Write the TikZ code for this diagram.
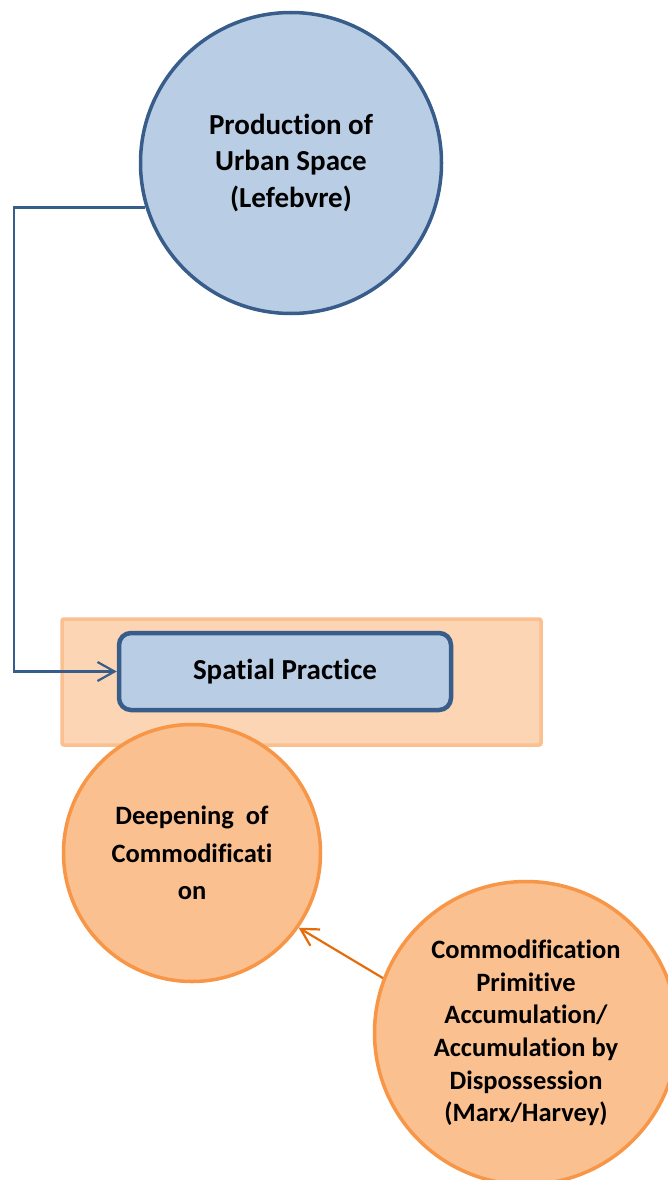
\documentclass[tikz,border=0pt]{standalone}
\usepackage{fontspec}
\setmainfont{Carlito}[Ligatures=NoCommon]
\usetikzlibrary{arrows.meta}
\definecolor{bluefill}{HTML}{B9CDE5}
\definecolor{blueline}{HTML}{385D8A}
\definecolor{orangefill}{HTML}{FAC090}
\definecolor{orangeline}{HTML}{F79646}
\definecolor{orangearrow}{HTML}{E46C0A}
\definecolor{panelfill}{HTML}{FCD5B5}
\definecolor{panelline}{HTML}{FAC090}
\begin{document}
\begin{tikzpicture}[x=1pt,y=-1pt,
    every node/.style={align=center,inner sep=0pt,font=\bfseries\fontsize{26.5}{32.6}\selectfont},
    bluecirc/.style={circle,draw=blueline,fill=bluefill,line width=3.5pt},
    orangecirc/.style={circle,draw=orangeline,fill=orangefill,line width=3.5pt},
    bluelink/.style={draw=blueline,line width=2.2pt,-{Straight Barb[length=17pt,width=19pt]}},
    orangelink/.style={draw=orangearrow,line width=2.2pt,-{Straight Barb[length=17pt,width=19pt]}}]
  \useasboundingbox (0,0) rectangle (668,1180);
  \draw
    (301.5,682) node[rectangle,draw=panelline,fill=panelfill,line width=3.5pt,
      rounded corners=2pt,minimum width=479pt,minimum height=126pt] (panel){}
    (285,671.5) node[rectangle,draw=blueline,fill=bluefill,line width=4.5pt,
      rounded corners=12pt,minimum width=332pt,minimum height=77pt,
      font=\bfseries\fontsize{29}{35}\selectfont] (practice){Spatial Practice}
    (291,163) node[bluecirc,minimum size=301pt,
      font=\bfseries\fontsize{29}{36.5}\selectfont] (prod){Production of\\Urban Space\\(Lefebvre)}
    (192,853) node[orangecirc,minimum size=257pt,
      font=\bfseries\fontsize{26.5}{37.5}\selectfont] (deep){Deepening\ \ of\\Commodificati\\on}
    (526,1033) node[orangecirc,minimum size=303pt] (marx){Commodification\\Primitive\\Accumulation/\\Accumulation by\\Dispossession\\(Marx/Harvey)};
  \coordinate (bend) at (14,671.5);
  \begin{scope}
    \draw[bluelink] (prod.197) -| (bend) -- (practice.west);
    \draw[orangelink] (marx.159) -- (deep.-35);
  \end{scope}
\end{tikzpicture}
\end{document}
